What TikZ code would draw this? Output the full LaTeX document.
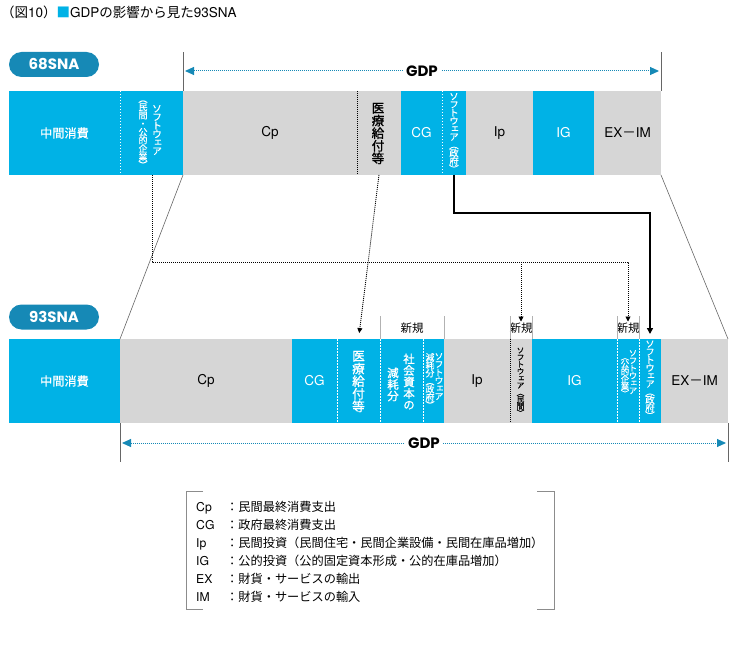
\documentclass[tikz,border=0pt]{standalone}
\usepackage{fontspec}
\setmainfont{Noto Sans CJK JP}
\newfontfamily\hel{TeX Gyre Heros}
\newfontfamily\med[FakeBold=0.8]{Noto Sans CJK JP}
\newfontfamily\tate[RawFeature=+vert,FakeBold=0.5]{Noto Sans CJK JP}
\newfontfamily\tatemed[RawFeature=+vert,FakeBold=1.2]{Noto Sans CJK JP}
\newfontfamily\heavy{Poppins}
\usetikzlibrary{arrows.meta}
\definecolor{sky}{HTML}{00B2E6}
\definecolor{barg}{HTML}{D6D6D6}
\definecolor{sea}{HTML}{1689B6}
\lineskiplimit=-5pt

\begin{document}
\begin{tikzpicture}[x=1pt,y=-1pt,
  bseg/.style={anchor=north west,fill=sky,text=white,minimum height=84pt,inner sep=0pt,outer sep=0pt,font=\med\fontsize{12.2}{14}\selectfont},
  gseg/.style={bseg,fill=barg,text=black},
  lat/.style={font=\hel\fontsize{13.5}{15}\selectfont},
  tcol/.style 2 args={font=\tate\fontsize{#1}{#2}\selectfont,align=center,inner sep=0pt},
  tbold/.style 2 args={font=\tatemed\fontsize{#1}{#2}\selectfont,align=center,inner sep=0pt},
  pill/.style={fill=sea,text=white,rounded corners=12.5pt,minimum width=90pt,minimum height=25pt,inner sep=0pt,font=\heavy\bfseries\fontsize{15}{15}\selectfont},
  newlab/.style={inner sep=1pt,font=\fontsize{11.5}{12}\selectfont},
  gdplabel/.style={fill=white,text=black,inner xsep=3pt,inner ysep=0pt,font=\heavy\bfseries\fontsize{15}{15}\selectfont},
  gdparrow/.style={sea,line width=1pt,dash pattern=on 1pt off 1pt,{Triangle[length=9pt,width=8pt]}-{Triangle[length=9pt,width=8pt]},shorten <=2pt,shorten >=2pt},
  wdot/.style={white,line width=1pt,dash pattern=on 1.5pt off 1.5pt},
  kdot/.style={black,line width=0.9pt,dash pattern=on 1pt off 1pt},
  kdarrow/.style={kdot,-{Triangle[length=5pt,width=5pt]}},
  karrow/.style={black,line width=1.6pt,-{Triangle[length=6pt,width=6pt]},shorten >=5pt},
  tick/.style={black!60,line width=0.6pt},
  ntick/.style={black!30,line width=1pt},
  brk/.style={black!45,line width=0.8pt}]
\useasboundingbox (0,0) rectangle (729,650);
% title
\node[anchor=west,inner sep=0pt,font=\fontsize{13.5}{15}\selectfont] (title) at (1,12) {（図{\hel 10}）{\color{sky}■}{\hel GDP}の影響から見た{\hel 93SNA}};
% 68SNA
\node[pill] (sna68) at (54,64.5) {68SNA};
\node[bseg,minimum width=111pt] (tmid) at (9,91) {中間消費};
\node[bseg,minimum width=63pt] (tsw) at (120,91) {};
\node[gseg,lat,minimum width=174pt] (tcp) at (183,91) {Cp};
\node[gseg,minimum width=44pt] (tmed) at (357,91) {};
\node[bseg,lat,minimum width=41pt] (tcg) at (401,91) {CG};
\node[bseg,minimum width=24pt] (tswg) at (442,91) {};
\node[gseg,lat,minimum width=67pt] (tip) at (466,91) {Ip};
\node[bseg,lat,minimum width=61pt] (tig) at (533,91) {IG};
\node[gseg,lat,minimum width=67pt] (tex) at (594,91) {EX{\normalfont －}IM};
\draw[wdot] (tsw.north west) -- (tsw.south west);
\draw[kdot] (tmed.north west) -- (tmed.south west);
\draw[wdot] (tswg.north west) -- (tswg.south west);
\node[tcol={10}{8.5},text=white] (tswa) at (157,130) {ソ\\フ\\ト\\ウ\\ェ\\ア};
\node[tcol={9}{8.3},text=white] (tswb) at (143,134.5) {（\\民\\間\\・\\公\\的\\企\\業\\）};
\node[tbold={12.6}{12.6}] (tmedt) at (378,133.5) {医\\療\\給\\付\\等};
\node[tcol={9.5}{8.1},text=white] (tswgt) at (454,133) {ソ\\フ\\ト\\ウ\\ェ\\ア\\（\\政\\府\\）};
\draw[tick] (tcp.north west) -- ([yshift=39pt]tcp.north west);
\draw[tick] (tex.north east) -- ([yshift=39pt]tex.north east);
\draw[gdparrow] ([yshift=20pt]tcp.north west) -- ([yshift=20pt]tex.north east) node[gdplabel,midway] (gdp68) {GDP};
% 93SNA
\node[pill] (sna93) at (54,317) {93SNA};
\node[bseg,minimum width=111pt] (bmid) at (9,339) {中間消費};
\node[gseg,lat,minimum width=172pt] (bcp) at (120,339) {Cp};
\node[bseg,lat,minimum width=45pt] (bcg) at (292,339) {CG};
\node[bseg,minimum width=43pt] (bmed) at (337,339) {};
\node[bseg,minimum width=43pt] (bsoc) at (380,339) {};
\node[bseg,minimum width=21pt] (bswd) at (423,339) {};
\node[gseg,lat,minimum width=66pt] (bip) at (444,339) {Ip};
\node[gseg,minimum width=22pt] (bswp) at (510,339) {};
\node[bseg,lat,minimum width=85pt] (big) at (532,339) {IG};
\node[bseg,minimum width=22pt] (bswc) at (617,339) {};
\node[bseg,minimum width=22pt] (bswg) at (639,339) {};
\node[gseg,lat,minimum width=67pt] (bex) at (661,339) {EX{\normalfont －}IM};
\draw[wdot] (bmed.north west) -- (bmed.south west);
\draw[wdot] (bsoc.north west) -- (bsoc.south west);
\draw[wdot] (bswd.north west) -- (bswd.south west);
\draw[kdot] (bswp.north west) -- (bswp.south west);
\draw[wdot] (bswc.north west) -- (bswc.south west);
\draw[wdot] (bswg.north west) -- (bswg.south west);
\node[tbold={12.6}{12.6},text=white] (bmedt) at (358.5,381.5) {医\\療\\給\\付\\等};
\node[tbold={11.5}{11.5},text=white] (bsoca) at (409,381.5) {社\\会\\資\\本\\の};
\node[tbold={11.5}{11.5},text=white] (bsocb) at (393,384.5) {減\\耗\\分};
\node[tcol={9}{8},text=white,anchor=north] (bswda) at (439,353) {ソ\\フ\\ト\\ウ\\ェ\\ア};
\node[tcol={9}{8},text=white,anchor=north] (bswdb) at (430,353) {減\\耗\\分\\（\\政\\府\\）};
\node[tcol={7.8}{7}] (bswpt) at (520.5,382) {ソ\\フ\\ト\\ウ\\ェ\\ア\\（\\民\\間\\）};
\node[tcol={8.5}{7.5},text=white,anchor=north] (bswca) at (633,350) {ソ\\フ\\ト\\ウ\\ェ\\ア};
\node[tcol={8.5}{7.5},text=white,anchor=north] (bswcb) at (625,358) {（\\公\\的\\企\\業\\）};
\node[tcol={9.5}{8},text=white] (bswgt) at (650,380) {ソ\\フ\\ト\\ウ\\ェ\\ア\\（\\政\\府\\）};
\node[newlab] (new1) at (412,328) {新規};
\node[newlab] (new2) at (521,328) {新規};
\node[newlab] (new3) at (628,328) {新規};
\draw[ntick] (bsoc.north west) -- ([yshift=23pt]bsoc.north west);
\draw[ntick] (bip.north west) -- ([yshift=23pt]bip.north west);
\draw[ntick] (bswp.north west) -- ([yshift=23pt]bswp.north west);
\draw[ntick] (bswp.north east) -- ([yshift=23pt]bswp.north east);
\draw[ntick] (bswc.north west) -- ([yshift=23pt]bswc.north west);
\draw[ntick] (bswc.north east) -- ([yshift=23pt]bswc.north east);
\draw[tick] (bcp.south west) -- ([yshift=-39pt]bcp.south west);
\draw[tick] (bex.south east) -- ([yshift=-39pt]bex.south east);
\draw[gdparrow] ([yshift=-20pt]bcp.south west) -- ([yshift=-20pt]bex.south east) node[gdplabel,midway] (gdp93) {GDP};
% connectors
\draw[tick] (tsw.south east) -- (bmid.north east);
\draw[tick] (tex.south east) -- (bex.north east);
\coordinate (junc) at (152,262);
\coordinate (elbow) at (454,213);
\draw[kdarrow] (tsw.south -| junc) -- (junc) -| (new3.north);
\draw[kdarrow] (junc -| new2.north) -- (new2.north);
\draw[kdarrow,shorten >=6pt] (tmed.south) -- (bmed.north);
\draw[karrow] (tswg.south) -- (tswg.south |- elbow) -| (bswg.north);
% legend
\node[anchor=north west,inner sep=0pt,font=\fontsize{12.2}{18}\selectfont] (legend) at (196,499) {%
\begin{tabular}{@{}p{30pt}@{}l@{}}
{\hel Cp} & ：民間最終消費支出\\
{\hel CG} & ：政府最終消費支出\\
{\hel Ip} & ：民間投資（民間住宅・民間企業設備・民間在庫品増加）\\
{\hel IG} & ：公的投資（公的固定資本形成・公的在庫品増加）\\
{\hel EX} & ：財貨・サービスの輸出\\
{\hel IM} & ：財貨・サービスの輸入
\end{tabular}};
\draw[brk] (203,491) -- (186,491) -- (186,609) -- (203,609);
\draw[brk] (537,491) -- (554,491) -- (554,609) -- (537,609);
\end{tikzpicture}
\end{document}
